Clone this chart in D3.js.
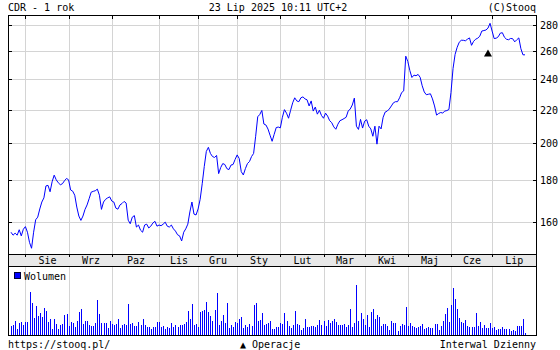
<!DOCTYPE html>
<html>
<head>
<meta charset="utf-8">
<script src="https://cdn.jsdelivr.net/npm/d3@7"></script>
<style>
  body { margin: 0; background: #fff; }
  svg { display: block; }
  text { font-family: "DejaVu Sans Mono", monospace; font-size: 10px; fill: #000; }
</style>
</head>
<body>
<svg id="chart" width="560" height="350"></svg>
<script>

// CDR, daily close, 23 Jul 2024 .. 23 Jul 2025
var prices = [155.4,154.1,155,154.1,156.5,153.8,156.7,157.9,155.4,151,148.5,155.4,161,162.2,166,169.3,171.3,177.2,177.5,174.3,
  179.3,182.7,180.3,178.8,177.8,178.3,179.8,181,180.3,175.2,174.6,172.6,166.9,162.7,160.7,162.7,165.8,167.9,170.9,174.1,
  174.5,174.8,175.6,172.6,165.8,169.3,170.6,171.3,171.8,169.8,169.3,166.4,165.9,167.9,168.6,169.6,168.8,160.8,159.2,162.2,
  162.9,157.7,158.6,156.3,155.4,158.6,159,157.3,158.1,159.5,160.3,158.1,158.6,158.3,159,159.9,158.1,157.7,158.6,156.9,
  155.9,154.3,153.8,151.6,155.4,156.9,159,164.6,169.3,163.6,163.2,166,170.6,178.3,187.2,195.4,197.7,194.3,192.6,192.1,
  193.2,183.5,186.7,188.8,188.3,186.1,185.6,188,188.3,191,193.5,191.5,184.5,182.8,186.1,188.8,189.9,192.6,194.3,204,
  215.6,217,219.5,211.2,210.6,208.2,204.6,201.1,205.1,209.1,209.4,208.9,215.3,220,217.8,214.7,219.6,224.3,227.5,225.5,
  225,227.5,228.1,226.8,226.2,222.3,225.5,219.1,221.6,217.2,219.6,216.4,214.7,217.8,216,213.2,212,209.5,208.1,211.1,
  213.2,213.8,214.5,215.3,219.1,220.4,222.9,227.3,209.9,208,214,208.8,212.9,213.8,209.9,208.3,204,209.9,199.5,209.9,
  208.3,215.3,218.5,219.1,220.4,222.3,224.3,225,225,227.5,230.9,232,256,252.2,245.7,241,242.6,242.2,243.1,241.1,
  235.4,231.3,229.5,229.8,230.1,226.8,222.3,216.6,217.6,218.2,217.9,219.1,219.4,220.1,230.9,247.2,257.3,262.5,266.3,267.8,
  267.8,267.4,268.6,269.6,264,267,268.6,269.4,270.9,274.9,275.3,275.7,277.2,281,274.9,269.1,269.4,270.5,273.3,273.6,
  270.1,268.6,268.2,269.2,269,266.6,268.2,269.6,261.5,257,257];

// daily volume (thousands)
var volumes = [270,300,420,190,370,390,300,390,390,1290,970,520,870,570,670,550,810,720,390,480,
  170,480,320,190,300,330,600,630,270,390,360,230,420,690,780,330,420,420,300,270,
  270,360,1050,630,360,360,360,210,420,330,300,330,480,210,300,330,300,930,330,360,
  270,270,390,300,480,300,240,240,180,240,240,390,390,240,270,180,240,210,360,240,
  300,240,300,300,330,390,720,480,930,300,330,240,690,720,750,990,690,570,420,750,
  1270,300,420,600,360,960,210,300,240,390,360,480,540,210,300,240,330,270,900,960,
  420,450,660,300,330,360,420,180,180,240,240,360,330,660,420,270,210,300,720,330,
  300,150,210,480,240,240,270,270,240,300,450,300,420,270,450,360,420,480,390,300,
  300,300,330,240,300,780,240,360,1500,420,660,480,300,600,240,690,780,480,600,540,
  270,330,330,270,150,420,360,360,120,270,330,300,840,270,360,270,240,210,240,270,
  330,180,210,240,210,210,330,330,150,270,420,630,810,390,900,1410,1080,780,510,390,
  360,450,270,240,240,240,660,270,390,210,300,210,210,360,210,240,150,180,180,240,
  180,180,180,120,150,120,270,270,270,480,60];

// first trading day of each month (index into prices)
var monthStart = [7, 28, 49, 72, 91, 110, 131, 152, 172, 193, 214, 234];
var monthLabels = ["Sie", "Wrz", "Paz", "Lis", "Gru", "Sty", "Lut", "Mar", "Kwi", "Maj", "Cze", "Lip"];
var priceTicks = [160, 180, 200, 220, 240, 260, 280];

// operations (marker ▲)
var opIdx = [232];
var opVal = [257.5];

var svg = d3.select("#chart");

var left = 8, right = 536;
var plotTop = 15, priceBottom = 254, bandBottom = 266, volBottom = 335;

var x = d3.scaleLinear().domain([0, prices.length - 1]).range([11, 525]);
var y = d3.scaleLog().domain([146.1, 287.7]).range([priceBottom, plotTop]);
var yv = d3.scaleLinear().domain([0, d3.max(volumes)]).range([volBottom, volBottom - 50]);

function px(i) { return Math.round(x(i)) + 0.5; }

// header
svg.append("text").attr("x", left).attr("y", 11).text("CDR - 1 rok");
svg.append("text").attr("x", 278).attr("y", 11).attr("text-anchor", "middle").text("23 Lip 2025 10:11 UTC+2");
svg.append("text").attr("x", right).attr("y", 11).attr("text-anchor", "end").text("(C)Stooq");

var grid = svg.append("g").attr("stroke", "#d4d4d4").attr("stroke-width", 1).attr("shape-rendering", "crispEdges");

// horizontal grid
priceTicks.forEach(function (v) {
  var yy = Math.round(y(v)) + 0.5;
  grid.append("line").attr("x1", left).attr("x2", right).attr("y1", yy).attr("y2", yy);
});

// vertical grid in price and volume panels
monthStart.forEach(function (i) {
  grid.append("line").attr("x1", px(i)).attr("x2", px(i)).attr("y1", plotTop).attr("y2", priceBottom);
  grid.append("line").attr("x1", px(i)).attr("x2", px(i)).attr("y1", bandBottom).attr("y2", volBottom);
});

// price line
var line = d3.line()
  .x(function (d, i) { return x(i); })
  .y(function (d) { return y(d); });

svg.append("path")
  .datum(prices)
  .attr("d", line)
  .attr("fill", "none")
  .attr("stroke", "#0000ff")
  .attr("stroke-width", 1);

// operation markers
opIdx.forEach(function (i, k) {
  svg.append("path")
    .attr("d", d3.symbol().type(d3.symbolTriangle).size(28)())
    .attr("transform", "translate(" + x(i) + "," + y(opVal[k]) + ")")
    .attr("fill", "#000");
});

// month band
svg.append("rect")
  .attr("x", left).attr("y", priceBottom)
  .attr("width", right - left).attr("height", bandBottom - priceBottom)
  .attr("fill", "#e8e8e8");

var axes = svg.append("g").attr("stroke", "#000").attr("shape-rendering", "crispEdges");

// frame
axes.append("line").attr("x1", left).attr("x2", right).attr("y1", plotTop + 0.5).attr("y2", plotTop + 0.5);
axes.append("line").attr("x1", left).attr("x2", right).attr("y1", priceBottom + 0.5).attr("y2", priceBottom + 0.5);
axes.append("line").attr("x1", left).attr("x2", right).attr("y1", bandBottom + 0.5).attr("y2", bandBottom + 0.5);
axes.append("line").attr("x1", left).attr("x2", right + 1).attr("y1", volBottom + 0.5).attr("y2", volBottom + 0.5).attr("stroke-width", 1.5);
axes.append("line").attr("x1", left + 0.5).attr("x2", left + 0.5).attr("y1", plotTop).attr("y2", volBottom);
axes.append("line").attr("x1", right + 0.5).attr("x2", right + 0.5).attr("y1", plotTop).attr("y2", volBottom);

// month ticks at top of frame and on band
monthStart.forEach(function (i) {
  axes.append("line").attr("x1", px(i)).attr("x2", px(i)).attr("y1", plotTop).attr("y2", plotTop + 4);
  axes.append("line").attr("x1", px(i)).attr("x2", px(i)).attr("y1", priceBottom).attr("y2", priceBottom + 3);
});

// price ticks, both sides inward
priceTicks.forEach(function (v) {
  var yy = Math.round(y(v)) + 0.5;
  axes.append("line").attr("x1", left).attr("x2", left + 4).attr("y1", yy).attr("y2", yy);
  axes.append("line").attr("x1", right - 3).attr("x2", right).attr("y1", yy).attr("y2", yy);
});

// right axis labels
svg.append("g").selectAll("text")
  .data(priceTicks)
  .join("text")
  .attr("x", 540)
  .attr("y", function (d) { return Math.round(y(d)) + 4; })
  .text(function (d) { return d; });

// month labels centred in their segment
var bounds = monthStart.map(px).concat([right]);
svg.append("g").selectAll("text")
  .data(monthLabels)
  .join("text")
  .attr("x", function (d, k) { return (bounds[k] + bounds[k + 1]) / 2; })
  .attr("y", 264)
  .attr("text-anchor", "middle")
  .text(function (d) { return d; });

// volume bars
svg.append("g")
  .attr("shape-rendering", "crispEdges")
  .selectAll("rect")
  .data(volumes)
  .join("rect")
  .attr("x", function (d, i) { return Math.round(x(i)); })
  .attr("y", function (d) { return yv(d); })
  .attr("width", 1)
  .attr("height", function (d) { return volBottom - yv(d); })
  .attr("fill", "#0000ff");

// volume legend
svg.append("rect").attr("x", 14.5).attr("y", 272.5).attr("width", 6).attr("height", 6)
  .attr("fill", "#0000ff").attr("stroke", "#000033").attr("stroke-width", 1);
svg.append("text").attr("x", 24).attr("y", 280).text("Wolumen");

// footer
svg.append("text").attr("x", left).attr("y", 348).text("https://stooq.pl/");
svg.append("text").attr("x", 240).attr("y", 348).text("\u25B2 Operacje");
svg.append("text").attr("x", right).attr("y", 348).attr("text-anchor", "end").text("Interwal Dzienny");

</script>
</body>
</html>
